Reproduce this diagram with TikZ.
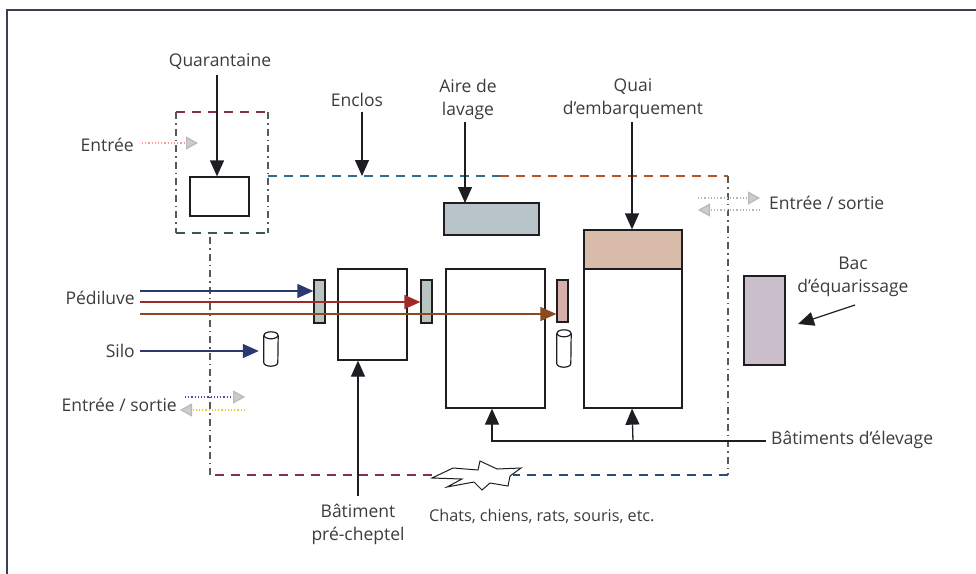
\documentclass[tikz,border=0pt]{standalone}
\usepackage{fontspec}
\setmainfont{Open Sans}
\usetikzlibrary{arrows.meta,calc}
\definecolor{txt}{HTML}{3C3C3C}
\definecolor{ink}{HTML}{1E1E22}
\definecolor{navy}{HTML}{2A3A70}
\definecolor{dred}{HTML}{A02A2A}
\definecolor{dorange}{HTML}{8A4A20}
\definecolor{teal}{HTML}{2F6F8A}
\definecolor{rust}{HTML}{B4552A}
\definecolor{wine}{HTML}{8A3040}
\definecolor{dblue}{HTML}{2A4F7A}
\definecolor{dgreen}{HTML}{3C5A46}
\definecolor{frame}{HTML}{3A4050}
\definecolor{fillblue}{HTML}{B9C3CA}
\definecolor{fillpink}{HTML}{D9BBAA}
\definecolor{filllav}{HTML}{CBBFCC}
\definecolor{padgrey}{HTML}{B9C4C0}
\definecolor{padpink}{HTML}{D4B0A8}
\tikzset{
  lab/.style={font=\fontsize{17.5}{23}\selectfont, text=txt, inner sep=1pt, align=center},
  box/.style={draw=ink, line width=1.3pt, inner sep=0pt},
  arr/.style={line width=1.3pt, draw=ink, -{Triangle[length=16pt,width=14pt]}},
  ghost/.style={line width=1.2pt, dotted, -{Triangle[length=12pt,width=13pt,fill=gray!40,color=gray!55]}},
  hdash/.style={line width=1.6pt, dash pattern=on 9pt off 7pt},
  vdash/.style={line width=1.4pt, draw=gray!70!black, dash pattern=on 7pt off 4pt on 1.5pt off 4pt},
}
\begin{document}
\begin{tikzpicture}[x=1pt,y=-1pt]
\useasboundingbox (0,0) rectangle (976,573);
\clip (0,0) rectangle (976,573);
% outer frame (top and left edges only are visible)
\coordinate (fr0) at (7,10);
\coordinate (fr1) at (990,10);
\coordinate (fr2) at (7,590);
\draw[line width=1.5pt, frame] (fr1) -- (fr0) -- (fr2);

% quarantine enclosure
\draw[hdash, wine] (176,112) -- (268,112);
\draw[vdash] (176,112) -- (176,233);
\draw[vdash] (268,112) -- (268,233);
\draw[hdash, dgreen] (176,233) -- (268,233);
% enclos
\draw[hdash, teal] (268,176) -- (500,176);
\draw[hdash, rust] (500,176) -- (728,176);
\draw[vdash] (728,176) -- (728,475);
\draw[hdash, dblue] (728,475) -- (513,475);
\draw[hdash, wine] (432,475) -- (210,475);
\draw[vdash] (210,475) -- (210,233);

% boxes
\node[box, minimum width=59pt, minimum height=39pt] (quar) at (219.5,196.5) {};
\node[box, fill=fillblue, minimum width=95pt, minimum height=32pt] (lavage) at (491.5,219) {};
\node[box, minimum width=98pt, minimum height=178pt] (quai) at (633,319) {};
\node[box, fill=fillpink, minimum width=98pt, minimum height=39pt] (quaitop) at (633,249.5) {};
\node[box, minimum width=69pt, minimum height=91pt] (pre) at (372.5,314.5) {};
\node[box, minimum width=99pt, minimum height=139pt] (mid) at (495.5,338.5) {};
\node[box, fill=padgrey, minimum width=11pt, minimum height=43pt] (pad1) at (319.5,301.5) {};
\node[box, fill=padgrey, minimum width=11pt, minimum height=43pt] (pad2) at (426.5,301.5) {};
\node[box, fill=padpink, minimum width=11pt, minimum height=42pt] (pad3) at (562.5,301) {};
\node[box, fill=filllav, minimum width=41pt, minimum height=89pt] (bac) at (764.5,320.5) {};

% silos
\node[minimum width=14pt, minimum height=34pt, inner sep=0pt] (silo1) at (271,349) {};
\node[minimum width=14pt, minimum height=37pt, inner sep=0pt] (silo2) at (564,348.5) {};
\foreach \s in {silo1,silo2}{
  \draw[line width=1.2pt, ink] ($(\s.north)+(0,3.5)$) ellipse [x radius=7pt, y radius=3.5pt];
  \draw[line width=1.2pt, ink] ($(\s.north west)+(0,3.5)$) -- ($(\s.south west)+(0,-3.5)$)
     arc[start angle=180, end angle=360, x radius=7pt, y radius=3.5pt] -- ($(\s.north east)+(0,3.5)$);
}

% labels
\node[lab] (tquar) at (220,62) {Quarantaine};
\node[lab, anchor=east] (tentree) at (135,145) {Entrée};
\node[lab] (tencl) at (357,100) {Enclos};
\node[lab] (tlav) at (468,99) {Aire de\\lavage};
\node[lab] (tquai) at (633,99) {Quai\\d'embarquement};
\node[lab, anchor=west] (tesr) at (768,203) {Entrée / sortie};
\node[lab] (tbac) at (853,277) {Bac\\d'équarissage};
\node[lab, anchor=east] (tped) at (136,298) {Pédiluve};
\node[lab, anchor=east] (tsilo) at (136,351) {Silo};
\node[lab, anchor=east] (tesl) at (178,405) {Entrée / sortie};
\node[lab, anchor=west] (telev) at (770,440) {Bâtiments d'élevage};
\node[lab] (tpre) at (358,524) {Bâtiment\\pré-cheptel};
\node[lab, anchor=west, font=\fontsize{16.2}{23}\selectfont] (tchats) at (428,516) {Chats, chiens, rats, souris, etc.};

% coordinates
\coordinate (enclt) at (362,176);
\coordinate (lavt) at (465,203);
\coordinate (pl1) at (140,291);
\coordinate (pl2) at (140,302);
\coordinate (pl3) at (140,314);
\coordinate (bacs) at (855,305);
\coordinate (bace) at (798,324);
\coordinate (ein) at (142,143);
\coordinate (eint) at (198,143);
\coordinate (er1) at (698,198);
\coordinate (er2) at (760,198);
\coordinate (er3) at (760,210);
\coordinate (er4) at (698,210);
\coordinate (el1) at (185,397);
\coordinate (el2) at (245,397);
\coordinate (el3) at (245,410);
\coordinate (el4) at (180,410);
\coordinate (prearr) at (358,496);

% arrows
\draw[arr] (tquar.south) ++(-3,4) -- (quar.north -| 217,0);
\draw[arr] (tencl.south -| enclt) ++(0,4) -- (enclt);
\draw[arr] (tlav.south -| lavt) ++(0,2) -- (lavt);
\draw[arr] ($(tquai.south)+(-1,2)$) -- (quaitop.north -| 632,0);
\draw[arr, draw=navy] (pl1) -- (pad1.west |- pl1);
\draw[arr, draw=dred] (pl2) -- (pad2.west |- pl2);
\draw[arr, draw=dorange] (pl3) -- (pad3.west |- pl3);
\draw[arr, draw=navy] (tsilo.east) ++(4,0) -- ($(silo1.west)+(-5,2)$);
\draw[arr] (prearr) -- (pre.south -| prearr);
\draw[arr] (telev.west) ++(-4,1) -| (mid.south -| 492,0);
\draw[arr] (quai.south |- 0,441) -- (quai.south -| 632,0);
\draw[arr, line width=1.2pt] (bacs) -- (bace);

% ghost arrows
\draw[ghost, draw=pink!80!red] (ein) -- (eint);
\draw[ghost, draw=gray!60] (er1) -- (er2);
\draw[ghost, draw=gray!60] (er3) -- (er4);
\draw[ghost, draw=blue!40!gray] (el1) -- (el2);
\draw[ghost, draw=yellow!60!brown] (el3) -- (el4);

% star
\draw[line width=1pt, ink, fill=white] (432,478) -- (453,468) -- (478,470) -- (480,461) -- (497,469)
  -- (521,468) -- (510,476) -- (508,486) -- (490,483) -- (482,490) -- (474,482) -- (447,487) -- (462,479) -- cycle;
\end{tikzpicture}
\end{document}
